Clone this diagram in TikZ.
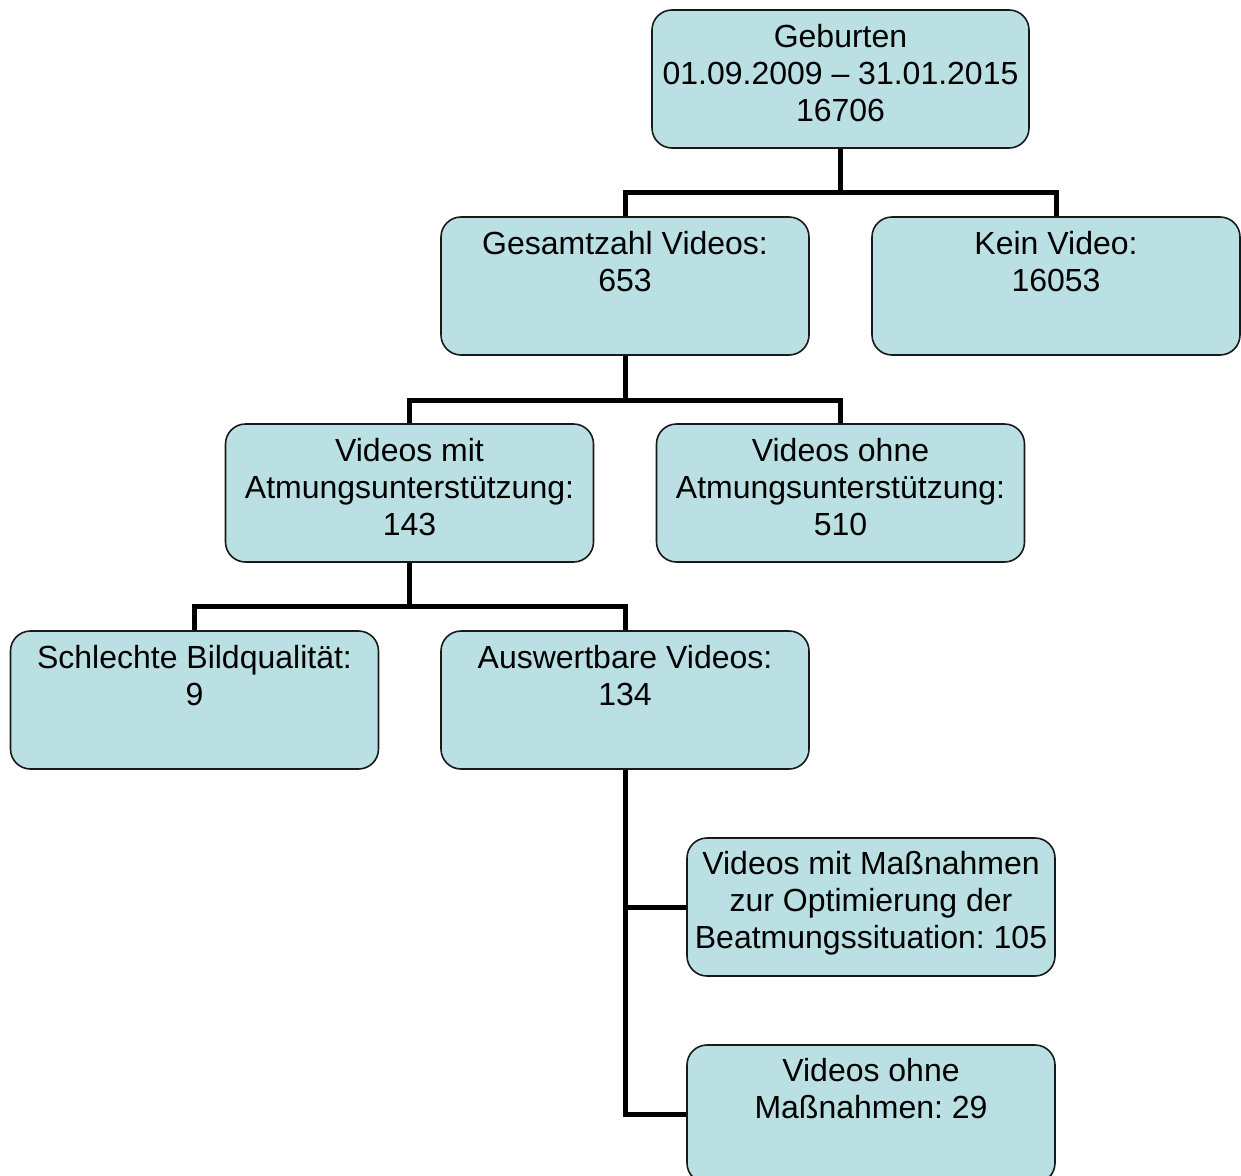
\documentclass[tikz,border=0pt]{standalone}
\usepackage{fontspec}
\setmainfont{Liberation Sans}
\frenchspacing
\begin{document}
\begin{tikzpicture}[x=1pt,y=-1pt,
  box/.style={draw=black!90, line width=1.6pt, fill=boxfill, rounded corners=20pt,
    minimum width=368pt, minimum height=138pt, inner sep=0pt},
  lbl/.style={anchor=base, align=center, inner sep=0pt, font=\fontsize{32}{37}\selectfont},
  conn/.style={line width=5pt, black}]
\definecolor{boxfill}{HTML}{BAE0E3}
\useasboundingbox (0,0) rectangle (1241,1175);
\clip (0,0) rectangle (1241,1175);
\node[box, minimum width=377pt] (geb) at (840.5,79) {};
\node[box] (ges) at (625,286) {};
\node[box] (kein) at (1056,286) {};
\node[box] (mit) at (409.5,493) {};
\node[box] (ohne) at (840.5,493) {};
\node[box] (schl) at (194.5,700) {};
\node[box] (aus) at (625,700) {};
\node[box] (mas1) at (871,907) {};
\node[box] (mas2) at (871,1114) {};
% labels (base anchor = baseline of last line)
\node[lbl] (tgeb) at ([yshift=-112pt]geb.north) {Geburten\\01.09.2009 – 31.01.2015\\16706};
\node[lbl] (tges) at ([yshift=-75pt]ges.north) {Gesamtzahl Videos:\\653};
\node[lbl] (tkein) at ([yshift=-75pt]kein.north) {Kein Video:\\16053};
\node[lbl] (tmit) at ([yshift=-112pt]mit.north) {Videos mit\\Atmungsunterstützung:\\143};
\node[lbl] (tohne) at ([yshift=-112pt]ohne.north) {Videos ohne\\Atmungsunterstützung:\\510};
\node[lbl] (tschl) at ([yshift=-75pt]schl.north) {Schlechte Bildqualität:\\9};
\node[lbl] (taus) at ([yshift=-75pt]aus.north) {Auswertbare Videos:\\134};
\node[lbl] (tmas1) at ([yshift=-111pt]mas1.north) {Videos mit Maßnahmen\\zur Optimierung der\\Beatmungssituation: 105};
\node[lbl] (tmas2) at ([yshift=-74pt]mas2.north) {Videos ohne\\Maßnahmen: 29};
% connectors
\coordinate (j1) at (840.5,192);
\coordinate (j2) at (625,400);
\coordinate (j3) at (409.5,606);
\draw[conn] (geb.south) -- (j1);
\draw[conn] (ges.north) |- (j1) -| (kein.north);
\draw[conn] (ges.south) -- (j2);
\draw[conn] (mit.north) |- (j2) -| (ohne.north);
\draw[conn] (mit.south) -- (j3);
\draw[conn] (schl.north) |- (j3) -| (aus.north);
\draw[conn] (aus.south) |- (mas2.west);
\draw[conn] (aus.south |- mas1.west) -- (mas1.west);
\end{tikzpicture}
\end{document}
